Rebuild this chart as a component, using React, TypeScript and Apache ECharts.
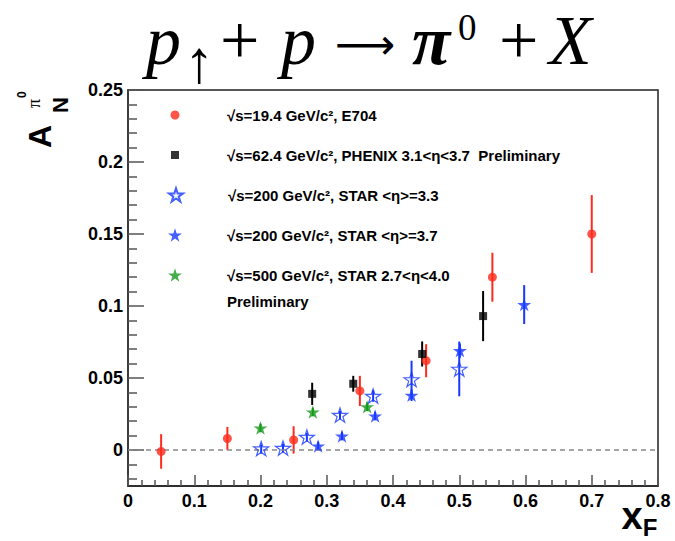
import React, { useEffect, useRef } from "react";
import * as echarts from "echarts";

// ---------- data ----------
const NAMES = [
  "√s=19.4 GeV/c², E704",
  "√s=62.4 GeV/c², PHENIX 3.1<η<3.7  Preliminary",
  "√s=200 GeV/c², STAR <η>=3.3",
  "√s=200 GeV/c², STAR <η>=3.7",
  "√s=500 GeV/c², STAR 2.7<η<4.0",
];
const EXTRA_LINE = "Preliminary";

// [xF, A_N, error]
const E704 = [
  [0.05, -0.001, 0.012],
  [0.15, 0.008, 0.008],
  [0.25, 0.007, 0.0095],
  [0.35, 0.041, 0.0105],
  [0.45, 0.062, 0.0115],
  [0.55, 0.12, 0.017],
  [0.7, 0.15, 0.027],
];
const PHENIX = [
  [0.278, 0.039, 0.0077],
  [0.34, 0.046, 0.0055],
  [0.444, 0.0667, 0.0087],
  [0.536, 0.093, 0.0174],
];
const STAR33 = [
  [0.201, 0.001, 0.003],
  [0.234, 0.0014, 0.003],
  [0.27, 0.009, 0.003],
  [0.32, 0.0243, 0.003],
  [0.37, 0.0375, 0.004],
  [0.428, 0.049, 0.013],
  [0.5, 0.0563, 0.019],
];
const STAR37 = [
  [0.287, 0.0028, 0.003],
  [0.323, 0.0097, 0.003],
  [0.373, 0.0236, 0.003],
  [0.428, 0.038, 0.004],
  [0.501, 0.069, 0.005],
  [0.598, 0.101, 0.0135],
];
const STAR500 = [
  [0.2, 0.0153, 0.003],
  [0.279, 0.0264, 0.003],
  [0.361, 0.03, 0.003],
];

const Y_MAJOR = [0, 0.05, 0.1, 0.15, 0.2, 0.25];
const Y_MINOR = [
  -0.02, -0.01, 0.01, 0.02, 0.03, 0.04, 0.06, 0.07, 0.08, 0.09, 0.11, 0.12,
  0.13, 0.14, 0.16, 0.17, 0.18, 0.19, 0.21, 0.22, 0.23, 0.24,
];

// ---------- styles ----------
const RED = "#ff2a1c";
const BLACK = "#000000";
const BLUE = "#1838ff";
const GREEN = "#179a1d";
const STAR =
  "path://M100,0L122.45,69.1L195.1,69.1L136.3,111.8L158.8,180.9L100,138.2L41.2,180.9L63.7,111.8L4.9,69.1L77.55,69.1Z";
const SANS = '"Liberation Sans", Arial, Helvetica, sans-serif';
const SERIF = '"Liberation Serif", "Times New Roman", serif';

function errSeries(name: string, data: number[][], color: string, extra: any = {}) {
  return {
    type: "custom",
    name,
    data,
    encode: { x: 0, y: [1] },
    z: 2,
    silent: true,
    renderItem: (_p: any, api: any) => {
      const x = api.value(0);
      const y = api.value(1);
      const e = api.value(2);
      const a = api.coord([x, y - e]);
      const b = api.coord([x, y + e]);
      return {
        type: "line",
        shape: { x1: a[0], y1: a[1], x2: b[0], y2: b[1] },
        style: { stroke: color, lineWidth: 2 },
      };
    },
    ...extra,
  };
}

function legendFor(name: string, icon: string, size: number, rowY: number) {
  const left = 175 - size / 2;
  return {
    data: [{ name, icon }],
    left,
    top: rowY - 10,
    padding: 0,
    itemWidth: size,
    itemHeight: size,
    selectedMode: false,
    textStyle: {
      fontFamily: SANS,
      fontWeight: "bold",
      fontSize: 15,
      color: "#000",
      lineHeight: 20,
      padding: [0, 0, 0, 227 - left - size - 5],
    },
  };
}

export default function App() {
  const ref = useRef<HTMLDivElement>(null);
  useEffect(() => {
    if (!ref.current) return;
    const chart = echarts.init(ref.current, null, { renderer: "svg" });
    const tickLine = { color: "#555", width: 1.5 };
    const axisLabel = {
      fontFamily: SANS,
      fontWeight: "bold",
      fontSize: 18,
      color: "#000",
    };
    const t = (text: string, x: number, y: number, font: string, align = "left") => ({
      type: "text",
      x,
      y,
      style: { text, font, fill: "#000", align, verticalAlign: "middle" },
    });
    chart.setOption({
      animation: false,
      backgroundColor: "#fff",
      grid: {
        left: 128,
        right: 17,
        top: 90,
        bottom: 55,
        show: true,
        borderColor: "#222",
        borderWidth: 1.5,
        backgroundColor: "transparent",
      },
      xAxis: {
        type: "value",
        min: 0,
        max: 0.8,
        interval: 0.1,
        axisLine: { show: true, onZero: false, lineStyle: { color: "#222", width: 1.5 } },
        axisTick: { show: true, inside: true, length: 11, lineStyle: tickLine },
        minorTick: { show: true, splitNumber: 5, length: 6, lineStyle: tickLine },
        splitLine: { show: false },
        minorSplitLine: { show: false },
        axisLabel: { ...axisLabel, margin: 6 },
      },
      yAxis: [
        {
          type: "value",
          min: -0.025,
          max: 0.25,
          axisLine: { show: true, onZero: false, lineStyle: { color: "#333", width: 1.5 } },
          axisTick: {
            show: true,
            inside: true,
            length: 16,
            customValues: Y_MAJOR,
            lineStyle: tickLine,
          },
          axisLabel: { ...axisLabel, margin: 5, customValues: Y_MAJOR },
          splitLine: { show: false },
        },
        {
          type: "value",
          min: -0.025,
          max: 0.25,
          position: "left",
          offset: 0,
          axisLine: { show: false, onZero: false },
          axisTick: {
            show: true,
            inside: true,
            length: 9,
            customValues: Y_MINOR,
            lineStyle: tickLine,
          },
          axisLabel: { show: false },
          splitLine: { show: false },
        },
      ],
      legend: [
        legendFor(NAMES[0], "circle", 9, 115),
        legendFor(NAMES[1], "rect", 8, 155),
        legendFor(NAMES[2], STAR, 14, 195),
        legendFor(NAMES[3], STAR, 14, 235),
        legendFor(NAMES[4], STAR, 14, 275),
      ],
      series: [
        errSeries("E704 err", E704, RED, {
          z: 1,
          markLine: {
            silent: true,
            symbol: ["none", "none"],
            label: { show: false },
            lineStyle: { color: "#888", type: [5, 4], width: 1.5 },
            data: [{ yAxis: 0 }],
          },
        }),
        errSeries("PHENIX err", PHENIX, BLACK),
        errSeries("STAR33 err", STAR33, BLUE),
        errSeries("STAR37 err", STAR37, BLUE),
        errSeries("STAR500 err", STAR500, GREEN),
        {
          type: "scatter",
          name: NAMES[0],
          data: E704.map((d) => [d[0], d[1]]),
          symbol: "circle",
          symbolSize: 9,
          itemStyle: { color: RED },
          z: 5,
        },
        {
          type: "scatter",
          name: NAMES[1],
          data: PHENIX.map((d) => [d[0], d[1]]),
          symbol: "rect",
          symbolSize: 8,
          itemStyle: { color: BLACK },
          z: 5,
        },
        {
          type: "scatter",
          name: NAMES[2],
          data: STAR33.map((d) => [d[0], d[1]]),
          symbol: STAR,
          symbolSize: 15,
          symbolKeepAspect: true,
          itemStyle: { color: "rgba(255,255,255,0)", borderColor: BLUE, borderWidth: 1.2 },
          z: 5,
        },
        {
          type: "scatter",
          name: NAMES[3],
          data: STAR37.map((d) => [d[0], d[1]]),
          symbol: STAR,
          symbolSize: 14,
          symbolKeepAspect: true,
          itemStyle: { color: BLUE },
          z: 5,
        },
        {
          type: "scatter",
          name: NAMES[4],
          data: STAR500.map((d) => [d[0], d[1]]),
          symbol: STAR,
          symbolSize: 14,
          symbolKeepAspect: true,
          itemStyle: { color: GREEN },
          z: 5,
        },
      ],
      graphic: [
        // title: p↑ + p ⟶ π0 + X
        t("p", 146, 40, `italic 70px ${SERIF}`),
        t("↑", 184, 62, `60px ${SERIF}`),
        t("+", 220, 40, `70px ${SERIF}`),
        t("p", 281, 40, `italic 70px ${SERIF}`),
        t("⟶", 365, 44, `42px "DejaVu Sans", sans-serif`, "center"),
        t("π", 412, 40, `italic bold 70px ${SERIF}`),
        t("0", 458, 27, `37px ${SERIF}`),
        t("+", 499, 40, `70px ${SERIF}`),
        t("X", 549, 40, `italic 70px ${SERIF}`),
        // y axis title A_N^{π0}
        {
          type: "group",
          x: 50,
          y: 148,
          rotation: Math.PI / 2,
          children: [
            t("A", 0, -10, `bold 32px ${SANS}`),
            t("N", 35, 10, `bold 22px ${SANS}`),
            t("π", 40, -16, `18px ${SERIF}`),
            t("0", 50, -28, `bold 12px ${SANS}`),
          ],
        },
        // x axis title x_F
        t("x", 632, 516, `bold 38px ${SANS}`, "center"),
        t("F", 650, 527, `bold 24px ${SANS}`, "center"),
        // second legend line
        t(EXTRA_LINE, 227, 301, `bold 15px ${SANS}`),
      ],
    });
    return () => chart.dispose();
  }, []);
  return (
    <div
      ref={ref}
      style={{ position: "absolute", left: 0, top: 0, width: 675, height: 541 }}
    />
  );
}
